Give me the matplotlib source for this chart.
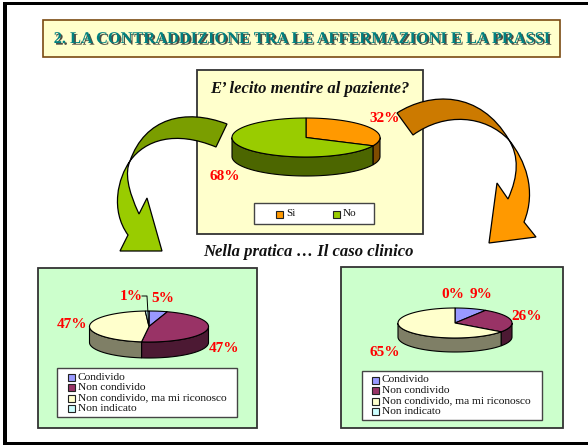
"""Slide with three pseudo-3D pies and two curved arrows, laid out in pixel coordinates."""

import numpy as np
import matplotlib
matplotlib.use('Agg')
import matplotlib.pyplot as plt
import matplotlib.patheffects as pe
from matplotlib.patches import PathPatch, Polygon, Rectangle
from matplotlib.path import Path

plt.rcParams['font.family'] = ['Liberation Serif', 'DejaVu Serif']

# data
top_labels = ['Sì', 'No']
top_values = [32, 68]
clinical_labels = ['Condivido', 'Non condivido', 'Non condivido, ma mi riconosco', 'Non indicato']
left_values = [5, 47, 47, 1]
right_values = [9, 26, 65, 0]

# face / wall colours
TOP_FACES = ['#FF9900', '#99CC00']
TOP_WALLS = ['#7F4C00', '#4C6600']
CASE_FACES = ['#9999FF', '#993366', '#FFFFCC', '#CCFFFF']
CASE_WALLS = ['#4C4C7F', '#4C1933', '#7F7F66', '#667F7F']

TITLE = '2. LA CONTRADDIZIONE TRA LE AFFERMAZIONI E LA PRASSI'


def box(ax, x0, y0, x1, y1, face, edge='#333333', lw=1.3, z=1):
    ax.add_patch(Rectangle((x0, y0), x1 - x0, y1 - y0, facecolor=face,
                           edgecolor=edge, linewidth=lw, zorder=z))


def draw_pie(ax, values, cx, cy, rx, ry, depth, faces, walls):
    edges = np.cumsum([0] + list(values)) / sum(values) * 2 * np.pi

    def rim(t):
        return cx + rx * np.sin(t), cy - ry * np.cos(t)

    # walls first, only the front half of the rim is visible
    for i in range(len(values)):
        a = max(edges[i], np.pi / 2)
        b = min(edges[i + 1], 3 * np.pi / 2)
        if b <= a:
            continue
        t = np.linspace(a, b, 80)
        x, y = rim(t)
        pts = np.r_[np.c_[x, y], np.c_[x[::-1], y[::-1] + depth]]
        ax.add_patch(Polygon(pts, closed=True, facecolor=walls[i],
                             edgecolor='black', linewidth=0.8, zorder=3))
    for i in range(len(values)):
        if values[i] == 0:
            continue
        t = np.linspace(edges[i], edges[i + 1], 120)
        x, y = rim(t)
        pts = np.r_[[[cx, cy]], np.c_[x, y]]
        ax.add_patch(Polygon(pts, closed=True, facecolor=faces[i],
                             edgecolor='black', linewidth=0.8, zorder=4))


def draw_legend(ax, labels, colors, key_x, text_x, ys, size):
    for lab, col, y in zip(labels, colors, ys):
        ax.add_patch(Rectangle((key_x - 3.5, y - 3.5), 7, 7, facecolor=col,
                               edgecolor='#222222', linewidth=0.8, zorder=6))
        ax.text(text_x, y, lab, fontsize=size, va='center', ha='left',
                color='#111111', zorder=6)


def red_label(ax, x, y, s):
    ax.text(x, y, s, color='#FF0000', fontsize=11, fontweight='bold',
            ha='center', va='center', zorder=8)


def curved(ax, verts, codes, face):
    ax.add_patch(PathPatch(Path(verts, codes), facecolor=face, edgecolor='black',
                           linewidth=0.9, joinstyle='miter', zorder=7))


M, Q, K, L, Z = Path.MOVETO, Path.CURVE3, Path.CURVE4, Path.LINETO, Path.CLOSEPOLY

fig, ax = plt.subplots(figsize=(5.88, 4.45), dpi=100)
ax.set_position([0, 0, 1, 1])
ax.set_xlim(0, 588)
ax.set_ylim(445, 0)
ax.axis('off')

# slide frame
ax.add_patch(Rectangle((3, 2), 585, 3.2, facecolor='black', edgecolor='none', zorder=1))
ax.add_patch(Rectangle((3, 2), 3.5, 443, facecolor='black', edgecolor='none', zorder=1))
ax.add_patch(Rectangle((3, 441.8), 585, 3.2, facecolor='black', edgecolor='none', zorder=1))

# title banner
box(ax, 43, 19.5, 560, 56.5, '#FFFFCC', edge='#7A4A12', lw=1.2)
ax.text(301.5, 39, TITLE, color='#008080', fontsize=11.8, fontweight='bold',
        ha='center', va='center', zorder=5,
        path_effects=[pe.SimplePatchShadow(offset=(1.2, -1.2), shadow_rgbFace='#222222', alpha=0.8),
                      pe.Normal()])

# top chart
box(ax, 197, 70, 423, 234, '#FFFFCC')
ax.text(310, 89, 'E’ lecito mentire al paziente?', fontsize=12, fontweight='bold',
        fontstyle='italic', ha='center', va='center', color='#111111', zorder=5)
draw_pie(ax, top_values, 306, 137.5, 74, 19.5, 19, TOP_FACES, TOP_WALLS)
red_label(ax, 385, 119, '32%')
red_label(ax, 225, 177, '68%')
box(ax, 254, 203, 374, 224, 'white', edge='#444444', lw=1.0, z=5)
for lab, col, kx, tx in zip(top_labels, TOP_FACES, [279, 336], [286, 343]):
    draw_legend(ax, [lab], [col], kx, tx, [214], 8)

ax.text(308, 252, 'Nella pratica … Il caso clinico', fontsize=12, fontweight='bold',
        fontstyle='italic', ha='center', va='center', color='#111111', zorder=5)

# left case
box(ax, 38, 268, 257, 428, '#CCFFCC')
draw_pie(ax, left_values, 149, 326.5, 59.5, 15.5, 16, CASE_FACES, CASE_WALLS)
ax.plot([142, 147, 148.5], [296, 296, 323], color='black', linewidth=0.7, zorder=5)
red_label(ax, 131, 297, '1%')
red_label(ax, 163, 298, '5%')
red_label(ax, 72, 324, '47%')
red_label(ax, 224, 348, '47%')
box(ax, 57, 368, 237, 417, 'white', edge='#444444', lw=1.0, z=5)
draw_legend(ax, clinical_labels, CASE_FACES, 71, 78, [377, 387.5, 398, 408.5], 8.2)

# right case
box(ax, 341, 267, 563, 428, '#CCFFCC')
draw_pie(ax, right_values, 455, 323, 57, 15, 14, CASE_FACES, CASE_WALLS)
red_label(ax, 453, 295, '0%')
red_label(ax, 481, 295, '9%')
red_label(ax, 527, 317, '26%')
red_label(ax, 385, 353, '65%')
box(ax, 362, 371, 542, 420, 'white', edge='#444444', lw=1.0, z=5)
draw_legend(ax, clinical_labels, CASE_FACES, 375, 382, [380, 390.5, 401, 411.5], 8.2)

# green arrow
curved(ax, [(227, 124), (185, 108), (145, 118), (130, 161),
            (145, 140), (175, 130), (216, 147), (227, 124), (227, 124)],
       [M, K, K, K, K, K, K, L, Z], '#7A9E00')
curved(ax, [(130, 161), (118, 178), (110, 210), (128, 235), (120, 251), (162, 251),
            (147, 198), (139, 214), (122, 178), (130, 161), (130, 161)],
       [M, K, K, K, L, L, L, L, Q, Q, Z], '#99CC00')

# orange arrow
curved(ax, [(397, 113), (430, 92), (480, 90), (509, 140),
            (485, 115), (445, 112), (413, 135), (397, 113), (397, 113)],
       [M, K, K, K, K, K, K, L, Z], '#CC7A00')
curved(ax, [(509, 140), (525, 160), (537, 190), (524, 222), (536, 237), (489, 243),
            (497, 183), (508, 199), (524, 164), (509, 140), (509, 140)],
       [M, K, K, K, L, L, L, L, Q, Q, Z], '#FF9900')

fig.savefig('out.png', dpi=100)
plt.close(fig)
